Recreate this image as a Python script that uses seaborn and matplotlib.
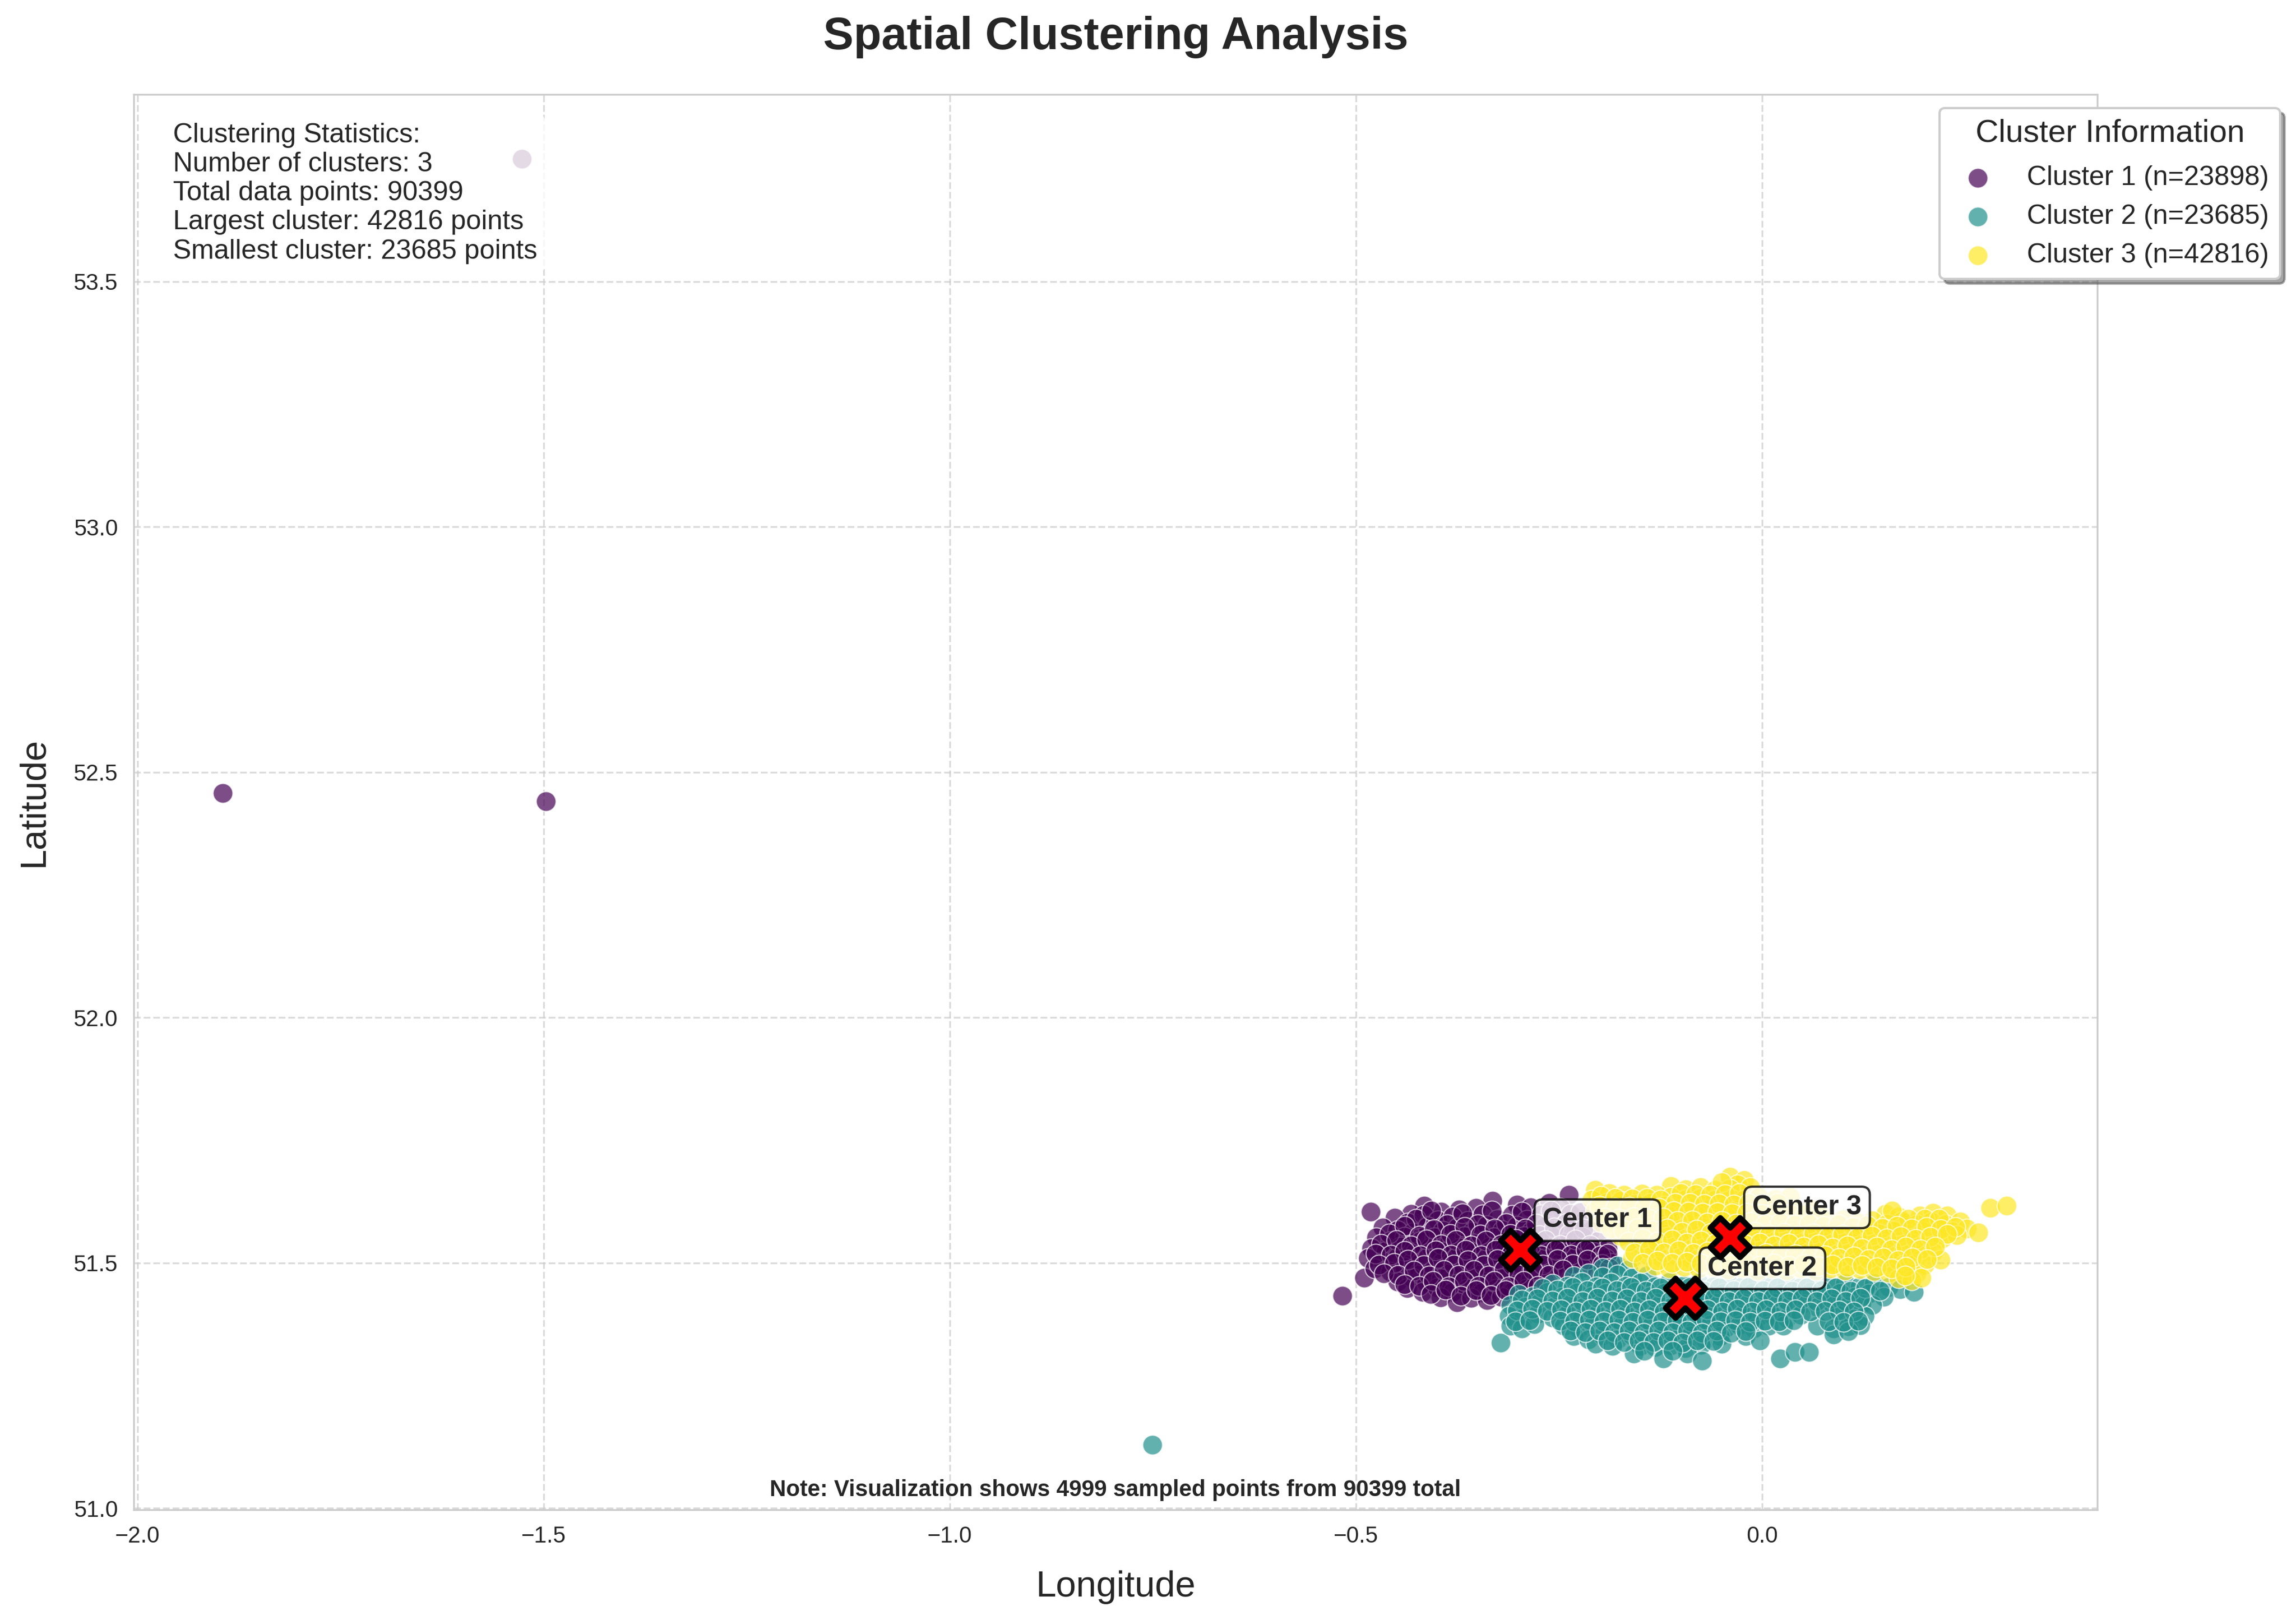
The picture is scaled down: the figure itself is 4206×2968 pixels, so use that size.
"""Spatial clustering scatter: three groups of sampled points with their centres"""

import matplotlib.pyplot as plt
import seaborn as sns

# points as (longitude, latitude)
cluster1_points = [
    (-1.895, 52.457), (-1.497, 52.44), (-1.527, 53.75), (-0.517, 51.433), (-0.482, 51.604), (-0.49, 51.47),
    (-0.238, 51.638), (-0.262, 51.622), (-0.302, 51.618), (-0.332, 51.626), (-0.352, 51.612), (-0.373, 51.608),
    (-0.395, 51.604), (-0.416, 51.616), (-0.432, 51.6), (-0.285, 51.613), (-0.248, 51.612),
    (-0.452, 51.592), (-0.436, 51.582), (-0.417, 51.597), (-0.399, 51.586), (-0.381, 51.594), (-0.362, 51.585),
    (-0.344, 51.598), (-0.326, 51.588), (-0.308, 51.597), (-0.29, 51.587), (-0.272, 51.598), (-0.254, 51.588),
    (-0.236, 51.6), (-0.218, 51.59), (-0.467, 51.572), (-0.449, 51.566), (-0.43, 51.562), (-0.412, 51.574),
    (-0.393, 51.565), (-0.375, 51.572), (-0.357, 51.563), (-0.339, 51.576), (-0.32, 51.566), (-0.302, 51.575),
    (-0.284, 51.564), (-0.266, 51.576), (-0.248, 51.566), (-0.23, 51.574), (-0.212, 51.565), (-0.475, 51.552),
    (-0.458, 51.544), (-0.44, 51.553), (-0.421, 51.544), (-0.403, 51.552), (-0.385, 51.543), (-0.366, 51.554),
    (-0.348, 51.543), (-0.33, 51.552), (-0.312, 51.544), (-0.293, 51.554), (-0.275, 51.544), (-0.257, 51.553),
    (-0.239, 51.544), (-0.221, 51.553), (-0.203, 51.544), (-0.481, 51.53), (-0.463, 51.524), (-0.445, 51.533),
    (-0.427, 51.522), (-0.408, 51.532), (-0.39, 51.523), (-0.372, 51.531), (-0.354, 51.522), (-0.335, 51.533),
    (-0.317, 51.523), (-0.299, 51.532), (-0.28, 51.522), (-0.262, 51.532), (-0.244, 51.523), (-0.226, 51.532),
    (-0.208, 51.522), (-0.19, 51.53), (-0.485, 51.51), (-0.467, 51.503), (-0.449, 51.512), (-0.431, 51.502),
    (-0.412, 51.511), (-0.394, 51.502), (-0.376, 51.512), (-0.358, 51.503), (-0.339, 51.511), (-0.321, 51.502),
    (-0.303, 51.512), (-0.285, 51.503), (-0.266, 51.511), (-0.248, 51.502), (-0.23, 51.512), (-0.212, 51.503),
    (-0.193, 51.51), (-0.186, 51.5), (-0.477, 51.488), (-0.458, 51.482), (-0.44, 51.491), (-0.422, 51.481),
    (-0.404, 51.49), (-0.385, 51.48), (-0.367, 51.491), (-0.349, 51.481), (-0.331, 51.49), (-0.312, 51.481),
    (-0.294, 51.49), (-0.276, 51.48), (-0.257, 51.49), (-0.239, 51.481), (-0.221, 51.49), (-0.203, 51.482),
    (-0.449, 51.462), (-0.431, 51.469), (-0.413, 51.46), (-0.395, 51.468), (-0.376, 51.459), (-0.358, 51.469),
    (-0.34, 51.46), (-0.321, 51.468), (-0.303, 51.459), (-0.285, 51.467), (-0.267, 51.46), (-0.437, 51.448),
    (-0.418, 51.441), (-0.4, 51.449), (-0.381, 51.44), (-0.363, 51.447), (-0.345, 51.439), (-0.327, 51.447),
    (-0.308, 51.44), (-0.29, 51.447), (-0.396, 51.429), (-0.376, 51.419), (-0.358, 51.428), (-0.339, 51.424),
    (-0.321, 51.43),
    # denser core
    (-0.426, 51.59), (-0.407, 51.606), (-0.388, 51.578), (-0.369, 51.601), (-0.35, 51.579), (-0.333, 51.606),
    (-0.315, 51.581), (-0.296, 51.604), (-0.278, 51.58), (-0.26, 51.606), (-0.241, 51.581), (-0.224, 51.603),
    (-0.459, 51.56), (-0.44, 51.575), (-0.422, 51.555), (-0.404, 51.568), (-0.384, 51.558), (-0.366, 51.573),
    (-0.347, 51.557), (-0.329, 51.57), (-0.31, 51.558), (-0.292, 51.569), (-0.274, 51.556), (-0.256, 51.572),
    (-0.238, 51.558), (-0.22, 51.57), (-0.469, 51.538), (-0.45, 51.546), (-0.432, 51.535), (-0.413, 51.547),
    (-0.395, 51.537), (-0.377, 51.546), (-0.358, 51.535), (-0.34, 51.545), (-0.321, 51.537), (-0.303, 51.548),
    (-0.285, 51.535), (-0.267, 51.546), (-0.249, 51.536), (-0.23, 51.547), (-0.212, 51.536), (-0.476, 51.518),
    (-0.457, 51.516), (-0.44, 51.524), (-0.421, 51.515), (-0.402, 51.525), (-0.383, 51.516), (-0.365, 51.526),
    (-0.346, 51.515), (-0.328, 51.526), (-0.309, 51.517), (-0.29, 51.526), (-0.272, 51.515), (-0.254, 51.526),
    (-0.235, 51.516), (-0.217, 51.526), (-0.199, 51.515), (-0.472, 51.496), (-0.453, 51.499), (-0.436, 51.506),
    (-0.417, 51.495), (-0.399, 51.51), (-0.38, 51.496), (-0.362, 51.505), (-0.343, 51.495), (-0.326, 51.507),
    (-0.307, 51.495), (-0.288, 51.508), (-0.27, 51.496), (-0.252, 51.507), (-0.233, 51.497), (-0.215, 51.506),
    (-0.197, 51.497), (-0.466, 51.478), (-0.448, 51.475), (-0.429, 51.484), (-0.41, 51.474), (-0.392, 51.485),
    (-0.374, 51.475), (-0.355, 51.485), (-0.337, 51.474), (-0.318, 51.486), (-0.3, 51.476), (-0.282, 51.485),
    (-0.263, 51.475), (-0.245, 51.486), (-0.44, 51.456), (-0.422, 51.453), (-0.405, 51.463), (-0.386, 51.452),
    (-0.367, 51.463), (-0.349, 51.453), (-0.33, 51.463), (-0.312, 51.452), (-0.294, 51.463), (-0.276, 51.453),
    (-0.408, 51.436), (-0.39, 51.445), (-0.371, 51.433), (-0.352, 51.444), (-0.334, 51.434), (-0.316, 51.444),
    (-0.19, 51.518), (-0.188, 51.49),
]

cluster2_points = [
    (-0.751, 51.129), (-0.322, 51.337), (0.022, 51.305), (0.04, 51.318), (0.058, 51.318),
    (-0.196, 51.49), (-0.178, 51.494), (-0.165, 51.486), (-0.232, 51.473), (-0.214, 51.478), (-0.196, 51.472),
    (-0.178, 51.476), (-0.16, 51.47), (-0.142, 51.474), (-0.258, 51.457), (-0.24, 51.453), (-0.222, 51.46),
    (-0.204, 51.452), (-0.186, 51.459), (-0.168, 51.453), (-0.15, 51.459), (-0.132, 51.452), (-0.114, 51.46),
    (-0.096, 51.454), (-0.078, 51.459), (-0.06, 51.452), (-0.042, 51.458), (-0.024, 51.452), (-0.006, 51.459),
    (0.012, 51.453), (0.03, 51.457), (0.048, 51.451), (0.066, 51.457), (0.084, 51.452), (0.102, 51.458),
    (0.12, 51.452), (0.138, 51.458), (0.156, 51.451), (0.17, 51.446), (0.187, 51.44), (-0.3, 51.436),
    (-0.282, 51.432), (-0.264, 51.44), (-0.246, 51.431), (-0.228, 51.439), (-0.21, 51.432), (-0.192, 51.438),
    (-0.174, 51.431), (-0.156, 51.44), (-0.138, 51.432), (-0.12, 51.438), (-0.102, 51.431), (-0.084, 51.44),
    (-0.066, 51.432), (-0.048, 51.438), (-0.03, 51.431), (-0.012, 51.439), (0.006, 51.432), (0.024, 51.438),
    (0.042, 51.431), (0.06, 51.44), (0.078, 51.432), (0.096, 51.438), (0.114, 51.431), (0.132, 51.437),
    (0.15, 51.43), (-0.31, 51.414), (-0.292, 51.41), (-0.274, 51.418), (-0.256, 51.41), (-0.238, 51.417),
    (-0.22, 51.409), (-0.202, 51.418), (-0.184, 51.41), (-0.166, 51.417), (-0.148, 51.41), (-0.13, 51.418),
    (-0.112, 51.409), (-0.094, 51.417), (-0.076, 51.41), (-0.058, 51.418), (-0.04, 51.409), (-0.022, 51.417),
    (-0.004, 51.41), (0.014, 51.418), (0.032, 51.41), (0.05, 51.416), (0.068, 51.409), (0.086, 51.417),
    (0.104, 51.41), (0.122, 51.416), (0.136, 51.414), (-0.312, 51.392), (-0.294, 51.388), (-0.276, 51.396),
    (-0.258, 51.388), (-0.24, 51.395), (-0.222, 51.387), (-0.204, 51.396), (-0.186, 51.388), (-0.168, 51.395),
    (-0.15, 51.387), (-0.132, 51.396), (-0.114, 51.388), (-0.096, 51.395), (-0.078, 51.387), (-0.06, 51.396),
    (-0.042, 51.388), (-0.024, 51.395), (-0.006, 51.388), (0.012, 51.394), (0.03, 51.387), (0.048, 51.394),
    (0.094, 51.393), (0.112, 51.386), (0.126, 51.392), (-0.31, 51.372), (-0.296, 51.366), (-0.28, 51.375),
    (-0.244, 51.372), (-0.226, 51.366), (-0.208, 51.374), (-0.19, 51.366), (-0.172, 51.373), (-0.154, 51.365),
    (-0.136, 51.374), (-0.118, 51.366), (-0.1, 51.373), (-0.082, 51.365), (-0.064, 51.374), (-0.046, 51.366),
    (-0.028, 51.373), (-0.01, 51.366), (0.008, 51.372), (0.026, 51.372), (0.068, 51.372), (0.088, 51.366),
    (0.106, 51.371), (0.121, 51.373), (-0.232, 51.35), (-0.214, 51.344), (-0.196, 51.352), (-0.178, 51.344),
    (-0.16, 51.352), (-0.142, 51.344), (-0.124, 51.351), (-0.106, 51.343), (-0.088, 51.352), (-0.07, 51.344),
    (-0.052, 51.35), (-0.02, 51.35), (-0.003, 51.342), (0.088, 51.354), (0.106, 51.36), (-0.205, 51.335),
    (-0.184, 51.33), (-0.15, 51.33), (-0.132, 51.328), (-0.112, 51.331), (-0.094, 51.326), (-0.075, 51.333),
    (-0.05, 51.335), (-0.158, 51.315), (-0.122, 51.305), (-0.092, 51.315), (-0.074, 51.3),
    # denser core
    (-0.27, 51.448), (-0.252, 51.445), (-0.233, 51.45), (-0.215, 51.444), (-0.197, 51.449), (-0.179, 51.444),
    (-0.161, 51.45), (-0.143, 51.443), (-0.125, 51.449), (-0.107, 51.444), (-0.089, 51.45), (-0.071, 51.443),
    (-0.053, 51.449), (-0.035, 51.444), (-0.017, 51.45), (0.001, 51.444), (0.019, 51.449), (0.037, 51.443),
    (0.055, 51.449), (0.073, 51.444), (0.091, 51.449), (0.109, 51.443), (0.127, 51.448), (0.145, 51.443),
    (-0.296, 51.425), (-0.277, 51.427), (-0.258, 51.423), (-0.24, 51.428), (-0.221, 51.422), (-0.203, 51.428),
    (-0.185, 51.423), (-0.167, 51.427), (-0.149, 51.422), (-0.131, 51.428), (-0.113, 51.423), (-0.095, 51.427),
    (-0.077, 51.422), (-0.059, 51.428), (-0.041, 51.422), (-0.023, 51.427), (-0.005, 51.422), (0.013, 51.428),
    (0.031, 51.423), (0.049, 51.427), (0.067, 51.422), (0.085, 51.427), (0.103, 51.422), (0.121, 51.428),
    (-0.302, 51.403), (-0.283, 51.406), (-0.265, 51.402), (-0.247, 51.405), (-0.229, 51.401), (-0.211, 51.406),
    (-0.193, 51.402), (-0.175, 51.406), (-0.157, 51.401), (-0.139, 51.405), (-0.121, 51.401), (-0.103, 51.406),
    (-0.085, 51.402), (-0.067, 51.405), (-0.049, 51.401), (-0.031, 51.406), (-0.013, 51.401), (0.005, 51.405),
    (0.023, 51.401), (0.041, 51.405), (0.059, 51.4), (0.077, 51.402), (0.095, 51.403), (0.113, 51.4),
    (-0.304, 51.381), (-0.286, 51.383), (-0.249, 51.382), (-0.231, 51.38), (-0.213, 51.384), (-0.195, 51.38),
    (-0.177, 51.384), (-0.159, 51.379), (-0.141, 51.384), (-0.123, 51.38), (-0.105, 51.383), (-0.087, 51.379),
    (-0.069, 51.384), (-0.051, 51.38), (-0.033, 51.383), (-0.015, 51.379), (0.003, 51.382), (0.021, 51.38),
    (0.039, 51.383), (0.082, 51.381), (0.1, 51.379), (0.118, 51.382), (-0.236, 51.361), (-0.218, 51.358),
    (-0.2, 51.362), (-0.182, 51.358), (-0.164, 51.362), (-0.146, 51.357), (-0.128, 51.362), (-0.11, 51.358),
    (-0.092, 51.361), (-0.074, 51.357), (-0.056, 51.361), (-0.038, 51.357), (-0.02, 51.36), (-0.19, 51.342),
    (-0.17, 51.338), (-0.152, 51.342), (-0.134, 51.338), (-0.116, 51.342), (-0.098, 51.337), (-0.08, 51.342),
    (-0.06, 51.34), (-0.145, 51.32), (-0.11, 51.32),
]

cluster3_points = [
    (-0.04, 51.675), (-0.022, 51.668), (-0.03, 51.66), (-0.112, 51.656), (-0.094, 51.65), (-0.076, 51.654),
    (-0.058, 51.648), (-0.04, 51.651), (-0.015, 51.654), (-0.206, 51.648), (-0.188, 51.642), (-0.17, 51.638),
    (-0.148, 51.641), (-0.13, 51.638), (-0.112, 51.634), (-0.094, 51.63), (-0.076, 51.632), (-0.058, 51.628),
    (-0.04, 51.632), (-0.022, 51.628), (-0.004, 51.634), (0.016, 51.63), (0.034, 51.634), (-0.21, 51.628),
    (-0.192, 51.622), (-0.174, 51.626), (-0.156, 51.62), (-0.138, 51.622), (-0.12, 51.616), (-0.102, 51.61),
    (-0.084, 51.614), (-0.066, 51.608), (-0.048, 51.612), (-0.03, 51.608), (-0.012, 51.612), (0.006, 51.608),
    (0.024, 51.612), (0.042, 51.606), (0.06, 51.61), (0.152, 51.6), (0.168, 51.594), (0.194, 51.596),
    (0.21, 51.602), (0.228, 51.596), (0.281, 51.612), (0.301, 51.616), (-0.206, 51.606), (-0.188, 51.6),
    (-0.17, 51.606), (-0.152, 51.6), (-0.134, 51.604), (-0.116, 51.596), (-0.098, 51.592), (-0.08, 51.596),
    (-0.062, 51.59), (-0.044, 51.594), (-0.026, 51.588), (-0.008, 51.592), (0.01, 51.588), (0.028, 51.592),
    (0.046, 51.586), (0.064, 51.59), (0.082, 51.584), (0.1, 51.588), (0.118, 51.582), (0.136, 51.586),
    (0.154, 51.58), (0.172, 51.585), (0.19, 51.578), (0.208, 51.584), (0.226, 51.578), (0.244, 51.584),
    (-0.198, 51.582), (-0.18, 51.578), (-0.162, 51.584), (-0.144, 51.578), (-0.126, 51.582), (-0.108, 51.574),
    (-0.09, 51.578), (-0.072, 51.572), (-0.054, 51.576), (-0.036, 51.57), (-0.018, 51.574), (0.0, 51.568),
    (0.018, 51.572), (0.036, 51.566), (0.054, 51.57), (0.072, 51.564), (0.09, 51.568), (0.108, 51.562),
    (0.126, 51.566), (0.144, 51.56), (0.162, 51.565), (0.18, 51.558), (0.198, 51.564), (0.216, 51.558),
    (0.234, 51.564), (0.252, 51.57), (0.266, 51.562), (-0.174, 51.554), (-0.156, 51.56),
    (-0.138, 51.554), (-0.12, 51.558), (-0.102, 51.552), (-0.084, 51.556), (-0.066, 51.55), (-0.048, 51.554),
    (-0.03, 51.548), (-0.012, 51.552), (0.006, 51.546), (0.024, 51.55), (0.042, 51.544), (0.06, 51.548),
    (0.078, 51.542), (0.096, 51.546), (0.114, 51.54), (0.132, 51.544), (0.15, 51.538), (0.168, 51.544),
    (0.186, 51.538), (0.204, 51.544), (0.222, 51.55), (0.24, 51.556),
    (-0.15, 51.538), (-0.132, 51.532), (-0.114, 51.536), (-0.096, 51.53), (-0.078, 51.534), (-0.06, 51.528),
    (-0.042, 51.532), (-0.024, 51.526), (-0.006, 51.53), (0.012, 51.524), (0.03, 51.528), (0.048, 51.522),
    (0.066, 51.526), (0.084, 51.52), (0.102, 51.524), (0.12, 51.518), (0.138, 51.522), (0.156, 51.516),
    (0.174, 51.522), (0.192, 51.516), (0.21, 51.522), (-0.16, 51.51), (-0.142, 51.516),
    (-0.124, 51.51), (-0.106, 51.514), (-0.088, 51.508), (-0.07, 51.512), (-0.052, 51.506), (-0.034, 51.51),
    (-0.016, 51.504), (0.002, 51.508), (0.02, 51.502), (0.038, 51.506), (0.056, 51.5), (0.074, 51.504),
    (0.092, 51.498), (0.11, 51.502), (0.128, 51.496), (0.146, 51.5), (0.164, 51.494), (0.182, 51.5),
    (0.2, 51.496), (0.22, 51.506), (-0.132, 51.494), (-0.114, 51.488),
    (-0.096, 51.492), (-0.078, 51.488), (-0.06, 51.492), (-0.042, 51.486), (-0.024, 51.49), (-0.006, 51.484),
    (0.012, 51.488), (0.03, 51.484), (0.048, 51.488), (0.066, 51.484), (0.084, 51.488), (0.102, 51.484),
    (0.12, 51.487), (0.138, 51.483), (0.156, 51.48), (0.174, 51.484), (0.19, 51.478), (0.168, 51.468),
    (0.184, 51.464), (0.196, 51.47),
    # denser core
    (-0.05, 51.664), (-0.1, 51.642), (-0.082, 51.64), (-0.064, 51.638), (-0.046, 51.64), (-0.028, 51.642),
    (-0.198, 51.636), (-0.181, 51.632), (-0.16, 51.631), (-0.142, 51.632), (-0.125, 51.628), (-0.107, 51.622),
    (-0.089, 51.622), (-0.071, 51.62), (-0.053, 51.621), (-0.035, 51.619), (-0.017, 51.622), (0.001, 51.62),
    (0.019, 51.622), (-0.2, 51.616), (-0.181, 51.612), (-0.163, 51.614), (-0.145, 51.611), (-0.127, 51.612),
    (-0.109, 51.605), (-0.091, 51.604), (-0.073, 51.602), (-0.055, 51.603), (-0.037, 51.601), (-0.019, 51.602),
    (-0.001, 51.6), (0.017, 51.602), (0.035, 51.6), (0.053, 51.598), (0.071, 51.597), (0.16, 51.606),
    (0.18, 51.59), (0.2, 51.59), (0.218, 51.59), (-0.194, 51.592), (-0.176, 51.59), (-0.158, 51.593),
    (-0.14, 51.59), (-0.122, 51.592), (-0.104, 51.585), (-0.086, 51.586), (-0.068, 51.582), (-0.05, 51.585),
    (-0.032, 51.58), (-0.014, 51.583), (0.004, 51.578), (0.022, 51.582), (0.04, 51.577), (0.058, 51.58),
    (0.076, 51.575), (0.094, 51.578), (0.112, 51.573), (0.13, 51.576), (0.148, 51.571), (0.166, 51.575),
    (0.184, 51.569), (0.202, 51.573), (0.22, 51.568), (0.238, 51.573), (-0.186, 51.57), (-0.171, 51.566),
    (-0.153, 51.571), (-0.135, 51.566), (-0.117, 51.57), (-0.099, 51.563), (-0.081, 51.567), (-0.063, 51.561),
    (-0.045, 51.565), (-0.027, 51.559), (-0.009, 51.563), (0.009, 51.557), (0.027, 51.561), (0.045, 51.555),
    (0.063, 51.559), (0.081, 51.553), (0.099, 51.557), (0.117, 51.551), (0.135, 51.555), (0.153, 51.549),
    (0.171, 51.554), (0.189, 51.548), (0.207, 51.553), (0.228, 51.558), (-0.165, 51.543),
    (-0.147, 51.549), (-0.129, 51.543), (-0.111, 51.547), (-0.093, 51.541), (-0.075, 51.545), (-0.057, 51.539),
    (-0.039, 51.543), (-0.021, 51.537), (-0.003, 51.541), (0.015, 51.535), (0.033, 51.539), (0.051, 51.533),
    (0.069, 51.537), (0.087, 51.531), (0.105, 51.535), (0.123, 51.529), (0.141, 51.533), (0.159, 51.527),
    (0.177, 51.533), (0.195, 51.527), (0.213, 51.533), (-0.157, 51.521), (-0.139, 51.527),
    (-0.121, 51.521), (-0.103, 51.525), (-0.085, 51.519), (-0.067, 51.523), (-0.049, 51.517), (-0.031, 51.521),
    (-0.013, 51.515), (0.005, 51.519), (0.023, 51.513), (0.041, 51.517), (0.059, 51.511), (0.077, 51.515),
    (0.095, 51.509), (0.113, 51.513), (0.131, 51.507), (0.149, 51.511), (0.167, 51.505), (0.185, 51.511),
    (0.203, 51.507), (-0.147, 51.499), (-0.129, 51.504), (-0.111, 51.499), (-0.093, 51.502),
    (-0.075, 51.498), (-0.057, 51.502), (-0.039, 51.496), (-0.021, 51.5), (-0.003, 51.494), (0.015, 51.498),
    (0.033, 51.494), (0.051, 51.497), (0.069, 51.493), (0.087, 51.496), (0.105, 51.492), (0.123, 51.495),
    (0.141, 51.491), (0.159, 51.488), (0.177, 51.492), (0.176, 51.474),
]

center_lon = [-0.298, -0.095, -0.04]
center_lat = [51.526, 51.428, 51.552]
cluster_counts = [23898, 23685, 42816]
cluster_colors = ['#440154', '#21918c', '#fde725']
x_ticks = [-2.0, -1.5, -1.0, -0.5, 0.0]
y_ticks = [51.0, 51.5, 52.0, 52.5, 53.0, 53.5]
total_points = 90399
sampled_points = 4999

sns.set_style("whitegrid")
plt.rcParams['font.family'] = ['Liberation Sans', 'DejaVu Sans']

fig = plt.figure(figsize=(4206 / 300, 2968 / 300), dpi=300)
# axes box in pixels of the final picture
ax = fig.add_axes([245 / 4206, 1 - 2766 / 2968, 3597 / 4206, 2593 / 2968])

all_points = [cluster1_points, cluster2_points, cluster3_points]
for i, pts in enumerate(all_points):
    lons = [p[0] for p in pts]
    lats = [p[1] for p in pts]
    sns.scatterplot(x=lons, y=lats, color=cluster_colors[i], s=75, alpha=0.7,
                    edgecolor='white', linewidth=0.5, ax=ax,
                    label=f'Cluster {i + 1} (n={cluster_counts[i]})')

sns.scatterplot(x=center_lon, y=center_lat, color='red', marker='X', s=300,
                edgecolor='black', linewidth=2.5, zorder=5, ax=ax, legend=False)

for i in range(len(center_lon)):
    ax.annotate(f'Center {i + 1}', (center_lon[i], center_lat[i]),
                xytext=(10, 10), textcoords='offset points',
                fontsize=12, fontweight='bold',
                bbox=dict(boxstyle='round,pad=0.3', facecolor='white', edgecolor='black', alpha=0.8))

ax.set_xlim(-2.0047, 0.4126)
ax.set_ylim(50.9967, 53.881)
ax.set_xticks(x_ticks)
ax.set_yticks(y_ticks)
ax.tick_params(labelsize=10)
ax.grid(True, linestyle='--', alpha=0.7)

ax.set_xlabel('Longitude', fontsize=16, labelpad=10)
ax.set_ylabel('Latitude', fontsize=16, labelpad=10)
ax.set_title('Spatial Clustering Analysis', fontsize=20, fontweight='bold', pad=20)

leg = ax.legend(title='Cluster Information', loc='upper right', bbox_to_anchor=(1.1, 1),
                fontsize=12, title_fontsize=14, frameon=True, shadow=True)
leg._legend_box.sep += 1.5

stats = (f'Clustering Statistics:\n'
         f'Number of clusters: {len(cluster_counts)}\n'
         f'Total data points: {total_points}\n'
         f'Largest cluster: {max(cluster_counts)} points\n'
         f'Smallest cluster: {min(cluster_counts)} points')
ax.text(0.02, 0.98, stats, transform=ax.transAxes, fontsize=12, va='top',
        bbox=dict(boxstyle='round', facecolor='white', edgecolor='none', alpha=0.8))

ax.text(0.5, 0.006, f'Note: Visualization shows {sampled_points} sampled points from {total_points} total',
        transform=ax.transAxes, fontsize=10, fontweight='bold', ha='center', va='bottom')

fig.savefig('out.png', dpi=300)
